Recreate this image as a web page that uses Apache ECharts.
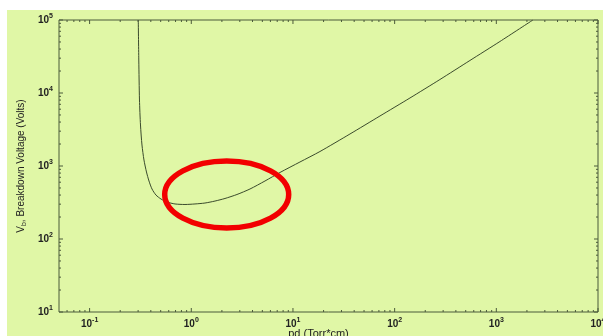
<!DOCTYPE html>
<html><head><meta charset="utf-8">
<script src="https://cdn.jsdelivr.net/npm/echarts@6/dist/echarts.min.js"></script>
<style>html,body{margin:0;padding:0;background:#fff;overflow:hidden;} #c{position:absolute;left:7px;top:10px;width:596px;height:326px;}</style>
</head><body><div id="c"></div>
<script>
// Paschen curve
const pd = [0.301, 0.3046, 0.3094, 0.3165, 0.3274, 0.3425, 0.3625, 0.3837, 0.4108, 0.4496, 0.5034, 0.5767, 0.6914, 0.8668, 1.087, 1.363, 1.710, 2.145, 2.813, 3.777, 5.304, 7.450, 11.71, 18.42, 36.35, 71.68, 141.4, 278.8, 549.9, 1085, 2289];
const vb = [100000, 28300, 8020, 3645, 1940, 1208, 828, 623, 484, 400, 353, 321, 302, 297, 302, 311, 331, 359, 407, 484, 623, 815, 1134, 1579, 2744, 4841, 8542, 15300, 27880, 50760, 100000];

const xRange = [0.05, 10000];
const yRange = [10, 100000];
const xMajorTicks = [0.1, 1, 10, 100, 1000, 10000];
const yMajorTicks = [10, 100, 1000, 10000, 100000];
const xMinorTicks = [0.06,0.07,0.08,0.09, 0.2,0.3,0.4,0.5,0.6,0.7,0.8,0.9, 2,3,4,5,6,7,8,9, 20,30,40,50,60,70,80,90, 200,300,400,500,600,700,800,900, 2000,3000,4000,5000,6000,7000,8000,9000];
const yMinorTicks = [20,30,40,50,60,70,80,90, 200,300,400,500,600,700,800,900, 2000,3000,4000,5000,6000,7000,8000,9000, 20000,30000,40000,50000,60000,70000,80000,90000];
const highlightCenter = [2.23, 407];

const AX = '#4b5a3a';
const FONT = 'Liberation Sans, Arial, sans-serif';

function powLabel(v) {
  const l = Math.log10(v);
  const e = Math.round(l);
  if (Math.abs(l - e) > 1e-6) return '';
  return '{b|10}{s|' + e + '}';
}
const labelRich = {
  b: {fontSize: 10, fontWeight: 'bold', color: '#222', fontFamily: FONT},
  s: {fontSize: 7, fontWeight: 'bold', color: '#222', fontFamily: FONT, padding: [0, 0, 7, 0]}
};

const chart = echarts.init(document.getElementById('c'));

const xTickData = xMajorTicks.map(v => [v, 4]).concat(xMinorTicks.map(v => [v, 2]));
const yTickData = yMajorTicks.map(v => [v, 4]).concat(yMinorTicks.map(v => [v, 2]));

chart.setOption({
  backgroundColor: '#e0f7a6',
  animation: false,
  grid: {left: 52, top: 10, width: 539, height: 292, outerBoundsMode: 'none', containLabel: false,
         show: true, borderColor: AX, borderWidth: 1, backgroundColor: 'transparent'},
  xAxis: {
    type: 'log', logBase: 10, min: xRange[0], max: xRange[1],
    name: 'pd (Torr*cm)', nameLocation: 'middle', nameGap: 16, nameMoveOverlap: false,
    nameTextStyle: {fontSize: 11, color: '#222', fontFamily: FONT, padding: [0, 20, 0, 0]},
    axisLine: {show: false}, axisTick: {show: false}, splitLine: {show: false}, minorTick: {show: false},
    axisLabel: {formatter: powLabel, rich: labelRich, margin: 5, showMinLabel: true, showMaxLabel: true, hideOverlap: false}
  },
  yAxis: {
    type: 'log', logBase: 10, min: yRange[0], max: yRange[1],
    name: '{v|V}{sub|b}{n|, Breakdown Voltage (Volts)}', nameLocation: 'middle', nameGap: 31, nameRotate: 90, nameMoveOverlap: false,
    nameTextStyle: {rich: {
      v: {fontSize: 10, color: '#222', fontFamily: FONT},
      sub: {fontSize: 7, color: '#222', fontFamily: FONT, padding: [6, 0, 0, 0]},
      n: {fontSize: 10, color: '#222', fontFamily: FONT}
    }},
    axisLine: {show: false}, axisTick: {show: false}, splitLine: {show: false}, minorTick: {show: false},
    axisLabel: {formatter: powLabel, rich: labelRich, margin: 6, showMinLabel: true, showMaxLabel: true, hideOverlap: false}
  },
  series: [
    {
      type: 'line', data: pd.map((x, i) => [x, vb[i]]), showSymbol: false, smooth: 0.25,
      lineStyle: {color: '#3a4a2c', width: 1}, clip: true, z: 3
    },
    {
      type: 'custom', data: xTickData, clip: false, silent: true, z: 4,
      renderItem: function (params, api) {
        const v = api.value(0), len = api.value(1);
        const b = api.coord([v, yRange[0]]);
        const t = api.coord([v, yRange[1]]);
        return {type: 'group', children: [
          {type: 'line', shape: {x1: b[0], y1: b[1], x2: b[0], y2: b[1] - len}, style: {stroke: AX, lineWidth: 1}},
          {type: 'line', shape: {x1: t[0], y1: t[1], x2: t[0], y2: t[1] + len}, style: {stroke: AX, lineWidth: 1}}
        ]};
      }
    },
    {
      type: 'custom', data: yTickData.map(d => [xRange[0], d[0], d[1]]), clip: false, silent: true, z: 4,
      renderItem: function (params, api) {
        const v = api.value(1), len = api.value(2);
        const l = api.coord([xRange[0], v]);
        const r = api.coord([xRange[1], v]);
        return {type: 'group', children: [
          {type: 'line', shape: {x1: l[0], y1: l[1], x2: l[0] + len, y2: l[1]}, style: {stroke: AX, lineWidth: 1}},
          {type: 'line', shape: {x1: r[0], y1: r[1], x2: r[0] - len, y2: r[1]}, style: {stroke: AX, lineWidth: 1}}
        ]};
      }
    }
  ]
});

const c = chart.convertToPixel({gridIndex: 0}, highlightCenter);
chart.setOption({
  graphic: [{
    type: 'ellipse', z: 10, silent: true,
    shape: {cx: c[0], cy: c[1], rx: 62, ry: 33.5},
    style: {fill: 'none', stroke: '#f20000', lineWidth: 5.5}
  }]
});
</script></body></html>
